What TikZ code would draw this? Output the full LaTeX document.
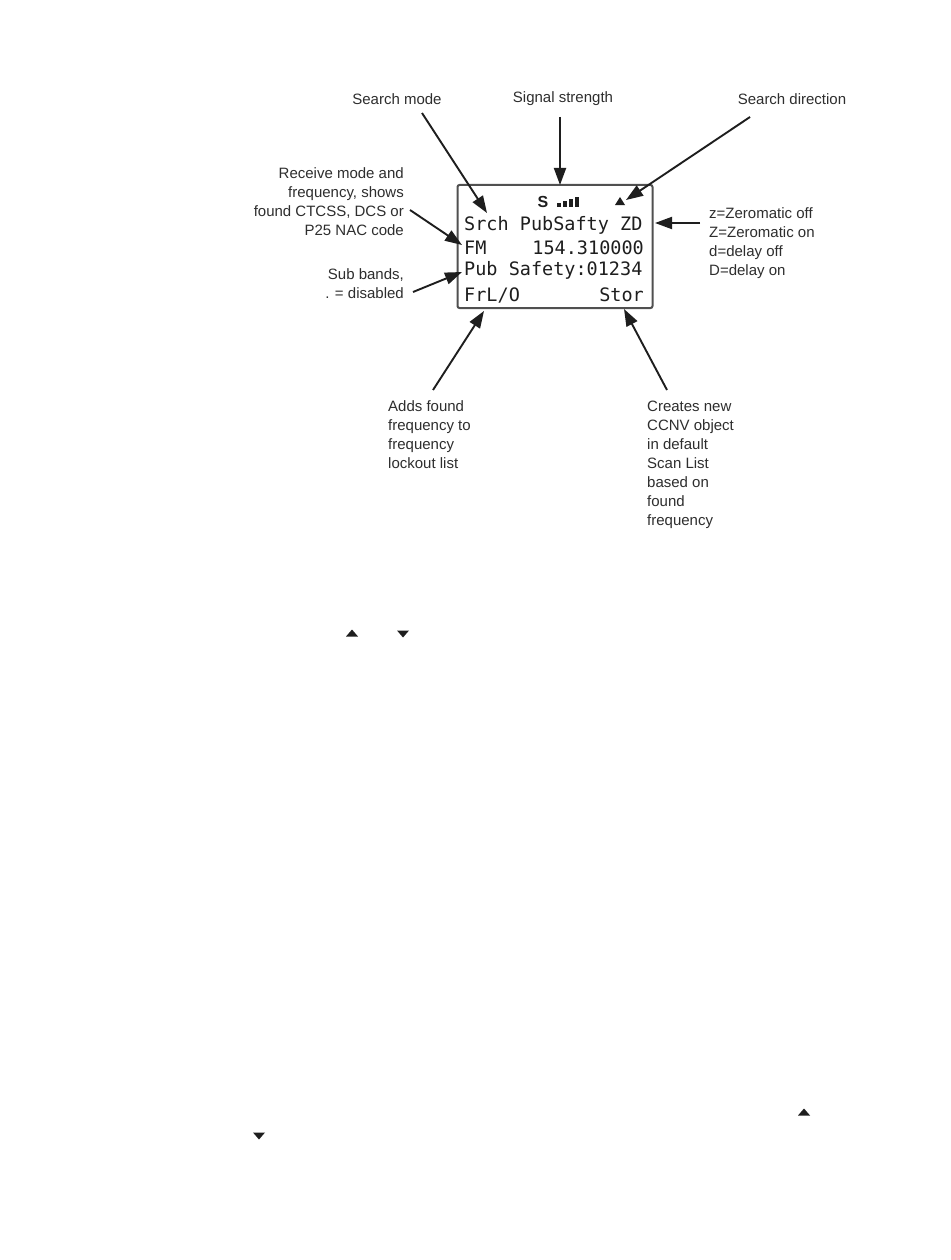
\documentclass[tikz,border=0pt]{standalone}
\usepackage{fontspec}
\setmainfont{Liberation Sans}
\newfontfamily\lcdfont{DejaVu Sans Mono}
\usetikzlibrary{arrows.meta}
\definecolor{ink}{HTML}{1E1E1E}
\definecolor{lbl}{HTML}{2E2E2E}
\definecolor{frame}{HTML}{505050}
\tikzset{
  lab/.style={inner sep=0pt, text=lbl, font=\fontsize{15}{19}\selectfont},
  lcdtxt/.style={inner sep=0pt, text=ink, font=\lcdfont\fontsize{18.5}{20}\selectfont},
  arr/.style={draw=ink, line width=1.9pt, -{Triangle[length=17pt,width=12pt]}},
  lcdbox/.style={draw=frame, line width=2pt, rounded corners=2pt, inner sep=0pt},
  tri/.style={fill=ink, draw=none}
}
\begin{document}
\begin{tikzpicture}[x=1pt,y=-1pt]
\useasboundingbox (0,0) rectangle (950,1260);
\fill[white] (0,0) rectangle (950,1260);

% LCD box
\node[lcdbox, minimum width=195pt, minimum height=123pt] (lcd) at (555,246.5) {};

% LCD contents
\node[inner sep=0pt, text=ink, font=\bfseries\fontsize{16}{18}\selectfont] (sig) at (543,202) {S};
\foreach \i/\h in {0/4,1/6,2/8,3/10}{
  \fill[ink] (557+6*\i,207) rectangle ++(4,-\h);
}
\fill[ink] (620,197) -- (625,205) -- (615,205) -- cycle;
\node[lcdtxt, anchor=west] (l1) at (464,225) {Srch PubSafty ZD};
\node[lcdtxt, anchor=west] (l2a) at (464,248) {FM};
\node[lcdtxt, anchor=east] (l2b) at (644,248) {154.310000};
\node[lcdtxt, anchor=west] (l3) at (464,270) {Pub Safety:01234};
\node[lcdtxt, anchor=west] (l4a) at (464,295) {FrL/O};
\node[lcdtxt, anchor=east] (l4b) at (644,295) {Stor};

% Labels
\node[lab] (sm) at (397,99) {Search mode};
\node[lab] (ss) at (563,99) {Signal strength};
\node[lab] (sd) at (792,99) {Search direction};
\node[lab, anchor=east, align=right] (rm) at (404,202) {Receive mode and\\frequency, shows\\found CTCSS, DCS or\\P25 NAC code};
\node[lab, anchor=east, align=right] (sb) at (404,283.5) {Sub bands,\\. = disabled};
\node[lab, anchor=west, align=left] (zd) at (709,243.5) {z=Zeromatic off\\Z=Zeromatic on\\d=delay off\\D=delay on};
\node[lab, anchor=north west, align=left] (af) at (388,400) {Adds found\\frequency to\\frequency\\lockout list};
\node[lab, anchor=north west, align=left] (cn) at (647,401) {Creates new\\CCNV object\\in default\\Scan List\\based on\\found\\frequency};

% Arrow tails
\coordinate (fSM) at (422,113);
\coordinate (fSS) at (560,117);
\coordinate (fSD) at (750,117);
\coordinate (fRM) at (410,210);
\coordinate (fSB) at (413,292);
\coordinate (fZD) at (700,223);
\coordinate (fFL) at (433,390);
\coordinate (fST) at (667,390);
% Arrow tips
\coordinate (tSM) at (487,213);
\coordinate (tSS) at (560,185);
\coordinate (tSD) at (626,200);
\coordinate (tRM) at (462,245);
\coordinate (tSB) at (462,272);
\coordinate (tZD) at (655,223);
\coordinate (tFL) at (484,311);
\coordinate (tST) at (624,309);

% Arrows
\draw[arr] (fSM) -- (tSM);
\draw[arr] (fSS) -- (tSS);
\draw[arr] (fSD) -- (tSD);
\draw[arr] (fRM) -- (tRM);
\draw[arr] (fSB) -- (tSB);
\draw[arr] (fZD) -- (tZD);
\draw[arr] (fFL) -- (tFL);
\draw[arr] (fST) -- (tST);

% Small triangles in the surrounding text
\fill[tri] (352,629.5) -- (358,636.5) -- (346,636.5) -- cycle;
\fill[tri] (397,630.5) -- (409,630.5) -- (403,637.5) -- cycle;
\fill[tri] (804,1108.5) -- (810,1115.5) -- (798,1115.5) -- cycle;
\fill[tri] (253,1132.5) -- (265,1132.5) -- (259,1139.5) -- cycle;
\end{tikzpicture}
\end{document}
